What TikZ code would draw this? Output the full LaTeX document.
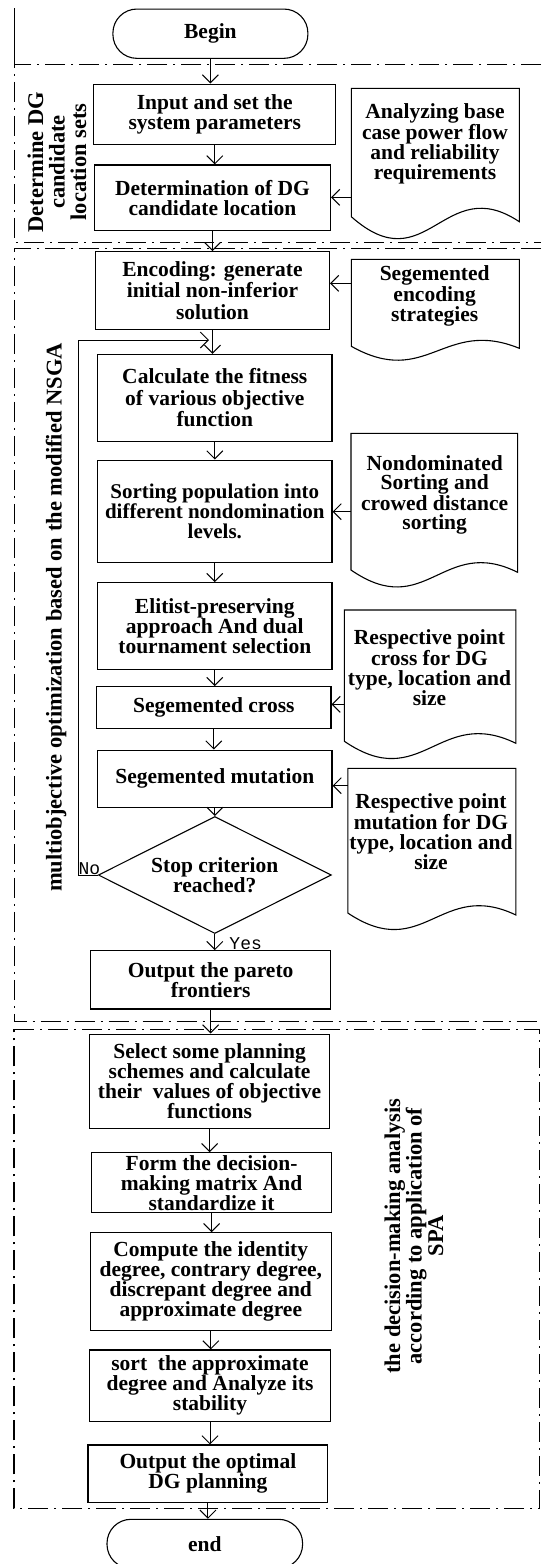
\documentclass[tikz,border=0pt]{standalone}
\usepackage{fontspec}
\setmainfont{Liberation Serif}
\newfontfamily\lblfont{Liberation Mono}
\usetikzlibrary{arrows.meta,shapes.geometric}
\newcommand\docshape[6]{%
  \draw[docline] (#1,#5) -- (#1,#3) -- (#2,#3) -- (#2,#4)
    .. controls ({#1+0.55*(#2-#1)},{#5-2.1*#6}) and ({#1+0.45*(#2-#1)},{#5+3.1*#6}) .. (#1,#5) -- cycle;}
\begin{document}
\begin{tikzpicture}[x=1pt,y=-1pt,
  box/.style={draw, line width=1.1pt, align=center, inner sep=0pt, font=\bfseries\fontsize{21.5}{20}\selectfont},
  term/.style={box, rounded corners=24pt},
  doctext/.style={align=center, inner sep=0pt, font=\bfseries\fontsize{21.5}{19.5}\selectfont},
  side/.style={rotate=90, align=center, inner sep=0pt, font=\bfseries\fontsize{22.5}{21.5}\selectfont},
  arr/.style={line width=1pt, -{Straight Barb[length=8pt,width=16pt]}},
  docline/.style={line width=1.1pt, line join=miter},
  secline/.style={line width=1.3pt, dash pattern=on 20pt off 6pt on 2pt off 6pt},
  lbl/.style={font=\lblfont\fontsize{18}{18}\selectfont, inner sep=0pt}
]
\useasboundingbox (0,0) rectangle (541,1564);

% section frames
\draw[line width=1.1pt] (14.5,8) -- (14.5,64.3);
\draw[secline] (541,64.3) -- (14.5,64.3) -- (14.5,242.3) -- (541,242.3);
\draw[secline] (541,248.3) -- (14.5,248.3) -- (14.5,1021.7) -- (541,1021.7);
\draw[secline] (14,1029.3) -- (539.5,1029.3) -- (539.5,1508.3) -- (14,1508.3) -- cycle;

% side titles
\node[side] (t1) at (57,162) {Determine DG\\candidate\\location sets};
\node[side] (t2) at (56,617.5) {multiobjective optimization based on the modified NSGA};
\node[side] (t3) at (414,1236) {the decision-making analysis\\according to application of\\SPA};

% main column
\node[term, minimum width=195pt, minimum height=49.3pt] (begin) at (210.4,33.7) {Begin};
\node[box, minimum width=241.8pt, minimum height=60.3pt] (inp) at (214.8,114.2) {Input and set the\\system parameters};
\node[box, minimum width=236pt, minimum height=65.7pt] (det) at (212.5,197.8) {Determination of DG\\candidate location};
\node[box, minimum width=234pt, minimum height=77.6pt, font=\bfseries\fontsize{21.5}{21.5}\selectfont] (enc) at (212.5,290.5) {Encoding: generate\\initial non-inferior\\solution};
\node[box, minimum width=234.4pt, minimum height=86.7pt, font=\bfseries\fontsize{21.5}{21.5}\selectfont] (calc) at (214.8,397.7) {Calculate the fitness\\of various objective\\function};
\node[box, minimum width=234.4pt, minimum height=102.3pt, font=\bfseries\fontsize{21}{20}\selectfont] (sortp) at (214.8,511.2) {Sorting population into\\different nondomination\\levels.};
\node[box, minimum width=234.4pt, minimum height=86.7pt] (elit) at (214.8,626) {Elitist-preserving\\approach And dual\\tournament selection};
\node[box, minimum width=234.4pt, minimum height=41.7pt] (cross) at (213.8,707.5) {Segemented cross};
\node[box, minimum width=234.4pt, minimum height=57.3pt] (mut) at (214.8,778.7) {Segemented mutation};
\node[box, diamond, aspect=2, minimum width=233pt, minimum height=117pt] (stop) at (214.8,875) {Stop criterion\\reached?};
\node[box, minimum width=239.8pt, minimum height=58.3pt] (pareto) at (210.6,979.8) {Output the pareto\\frontiers};
\node[box, minimum width=239.8pt, minimum height=94.3pt] (sel) at (209.6,1081.2) {Select some planning\\schemes and calculate\\their\ \ values of objective\\functions};
\node[box, minimum width=240.5pt, minimum height=60pt] (form) at (211.6,1182.7) {Form the decision-\\making matrix And\\standardize it};
\node[box, minimum width=240.8pt, minimum height=98pt] (comp) at (210.8,1281.7) {Compute the identity\\degree, contrary degree,\\discrepant degree and\\approximate degree};
\node[box, minimum width=240.5pt, minimum height=71.7pt] (sorta) at (210,1385.8) {sort\ \ the approximate\\degree and Analyze its\\stability};
\node[box, minimum width=239.8pt, minimum height=57.7pt] (outp) at (207.9,1473.8) {Output the optimal\\DG planning};
\node[term, minimum width=195.6pt, minimum height=49pt] (endn) at (204.8,1543.8) {end};

% documents
\docshape{351.3}{519.3}{88.3}{221.7}{216.7}{21.6}
\docshape{351.3}{519.3}{259.3}{348.3}{346.3}{13.7}
\docshape{351}{517.6}{433.3}{572.3}{570}{16.7}
\docshape{344.4}{515.9}{610}{743.3}{741.3}{17}
\docshape{347.8}{515.9}{768.3}{915}{913}{16.3}
\node[doctext] (docA) at (435,144) {Analyzing base\\case power flow\\and reliability\\requirements};
\node[doctext] (docS) at (434.7,296) {Segemented\\encoding\\strategies};
\node[doctext] (docN) at (434.7,495) {Nondominated\\Sorting and\\crowed distance\\sorting};
\node[doctext] (docC) at (429.5,668) {Respective point\\cross for DG\\type, location and\\size};
\node[doctext] (docM) at (431,832) {Respective point\\mutation for DG\\type, location and\\size};
\coordinate (inA) at (351.3,197.3);
\coordinate (inS) at (351.3,283.3);
\coordinate (inN) at (351,511.7);
\coordinate (inC) at (344.4,704.3);
\coordinate (inM) at (347.8,785.7);

% labels
\node[lbl] (no) at (89.5,868.3) {No};
\node[lbl] (yes) at (245.7,943.3) {Yes};

% connectors
\draw[arr] (begin.south) -- (begin.south |- inp.north);
\draw[arr] (inp.south) -- (inp.south |- det.north);
\draw[arr] (det.south) -- (det.south |- enc.north);
\draw[arr] (enc.south) -- (enc.south |- calc.north);
\draw[arr] (calc.south) -- (calc.south |- sortp.north);
\draw[arr] (sortp.south) -- (sortp.south |- elit.north);
\draw[arr] (elit.south) -- (elit.south |- cross.north);
\draw[arr] (cross.south) -- (cross.south |- mut.north);
\draw[arr] (mut.south) -- (mut.south |- stop.north);
\draw[arr] (stop.south) -- (stop.south |- pareto.north);
\draw[arr] (pareto.south) -- (pareto.south |- sel.north);
\draw[arr] (sel.south) -- (sel.south |- form.north);
\draw[arr] (form.south) -- (form.south |- comp.north);
\draw[arr] (comp.south) -- (comp.south |- sorta.north);
\draw[arr] (sorta.south) -- (sorta.south |- outp.north);
\draw[arr] (outp.south) -- (outp.south |- endn.north);

\draw[arr] (inA) -- (det.east |- inA);
\draw[arr] (inS) -- (enc.east |- inS);
\draw[arr] (inN) -- (sortp.east |- inN);
\draw[arr] (inC) -- (cross.east |- inC);
\draw[arr] (inM) -- (mut.east |- inM);

\coordinate (loopx) at (78.7,340);
\coordinate (loopend) at (209,340);
\draw[arr] (stop.west) -| (loopx) -- (loopend);
\end{tikzpicture}
\end{document}
